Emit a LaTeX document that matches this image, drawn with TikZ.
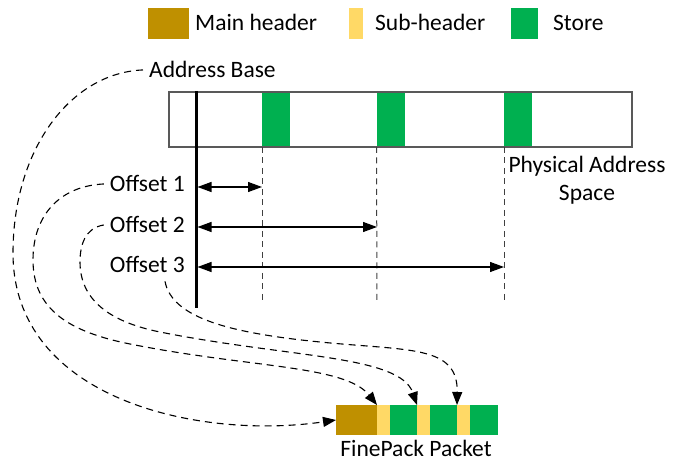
\documentclass[tikz,border=0pt]{standalone}
\usepackage{fontspec}
\setmainfont{Carlito}
\usetikzlibrary{arrows.meta}
\definecolor{mainh}{HTML}{BF9000}
\definecolor{subh}{HTML}{FFD966}
\definecolor{storec}{HTML}{00B050}
\definecolor{boxc}{HTML}{595959}
\begin{document}
\begin{tikzpicture}[x=1pt,y=-1pt,
  lbl/.style={font=\fontsize{23.5}{28}\selectfont, inner sep=0pt, text=black},
  swatch/.style={draw=none, inner sep=0pt, outer sep=0pt, minimum height=31pt},
  seg/.style={draw=none, inner sep=0pt, outer sep=0pt, minimum height=30pt},
  memblk/.style={draw=none, fill=storec, inner sep=0pt, outer sep=0pt, minimum width=28pt, minimum height=55pt},
  guide/.style={dash pattern=on 6pt off 4.5pt, line width=1pt, draw=black!75},
  link/.style={dash pattern=on 7pt off 5pt, line width=1.1pt, draw=black, -{Triangle[length=13pt,width=10pt]}},
  span/.style={line width=1.1pt, {Triangle[length=14pt,width=10pt]}-{Triangle[length=14pt,width=10pt]}}
]
\useasboundingbox (0,0) rectangle (683,462);

% legend
\node[swatch, fill=mainh, minimum width=41pt] (lmain) at (168.5,23.5) {};
\node[lbl, anchor=base west] (tmain) at (195,31) {Main header};
\node[swatch, fill=subh, minimum width=14pt] (lsub) at (356,23.5) {};
\node[lbl, anchor=base west] (tsub) at (375,31) {Sub-header};
\node[swatch, fill=storec, minimum width=27pt] (lstore) at (524.5,23.5) {};
\node[lbl, anchor=base west] (tstore) at (553,31) {Store};

% physical address space
\node[memblk] (s1) at (276,119.5) {};
\node[memblk] (s2) at (390.5,119.5) {};
\node[memblk] (s3) at (518,119.5) {};
\node[draw=boxc, line width=1.1pt, inner sep=0pt, minimum width=463pt, minimum height=55pt] (mem) at (400.5,119.5) {};

\node[lbl, anchor=base west] (abase) at (149,78) {Address Base};
\node[lbl, anchor=base] (phys1) at (587,173) {Physical Address};
\node[lbl, anchor=base] (phys2) at (587,201) {Space};

% base line
\coordinate (btop) at (196,91);
\coordinate (bbot) at (196,308);
\draw[line width=3pt] (btop) -- (bbot);

% guides
\coordinate (g1) at (262,302);
\coordinate (g2) at (377,302);
\coordinate (g3) at (504,302);
\draw[guide] (s1.south west) -- (g1);
\draw[guide] (s2.south west) -- (g2);
\draw[guide] (s3.south west) -- (g3);

% offsets
\node[lbl, anchor=base east] (off1) at (185,192) {Offset 1};
\node[lbl, anchor=base east] (off2) at (185,233) {Offset 2};
\node[lbl, anchor=base east] (off3) at (185,273) {Offset 3};
\coordinate (a1l) at (197.5,187); \coordinate (a1r) at (262,187);
\coordinate (a2l) at (197.5,227); \coordinate (a2r) at (377,227);
\coordinate (a3l) at (197.5,267); \coordinate (a3r) at (504,267);
\draw[span] (a1l) -- (a1r);
\draw[span] (a2l) -- (a2r);
\draw[span] (a3l) -- (a3r);

% packet
\node[seg, fill=mainh, minimum width=41pt] (p0) at (356.5,420) {};
\node[seg, fill=subh, minimum width=13pt] (p1) at (383.5,420) {};
\node[seg, fill=storec, minimum width=27pt] (p2) at (403.5,420) {};
\node[seg, fill=subh, minimum width=13pt] (p3) at (423.5,420) {};
\node[seg, fill=storec, minimum width=27pt] (p4) at (443.5,420) {};
\node[seg, fill=subh, minimum width=13pt] (p5) at (463.5,420) {};
\node[seg, fill=storec, minimum width=28pt] (p6) at (484,420) {};
\node[lbl, anchor=base] (fp) at (416,456) {FinePack Packet};

% links
\draw[link] ([xshift=-6pt]abase.west) .. controls (70,73) and (13,150) .. (13,253)
  .. controls (13,400) and (200,440) .. (p0.west);
\draw[link] ([xshift=-6pt]off1.west) .. controls (60,186) and (33,215) .. (33,260)
  .. controls (33,310) and (70,332) .. (130,344)
  .. controls (250,368) and (345,365) .. (p0.north east);
\draw[link] ([xshift=-6pt]off2.west) .. controls (85,228) and (80,245) .. (80,262)
  .. controls (80,300) and (110,322) .. (160,332)
  .. controls (290,358) and (400,355) .. (p2.north east);
\draw[link] ([xshift=-20pt,yshift=-8pt]off3.south east) .. controls (172,318) and (230,333) .. (320,342)
  .. controls (410,351) and (458,345) .. (p4.north east);
\end{tikzpicture}
\end{document}
